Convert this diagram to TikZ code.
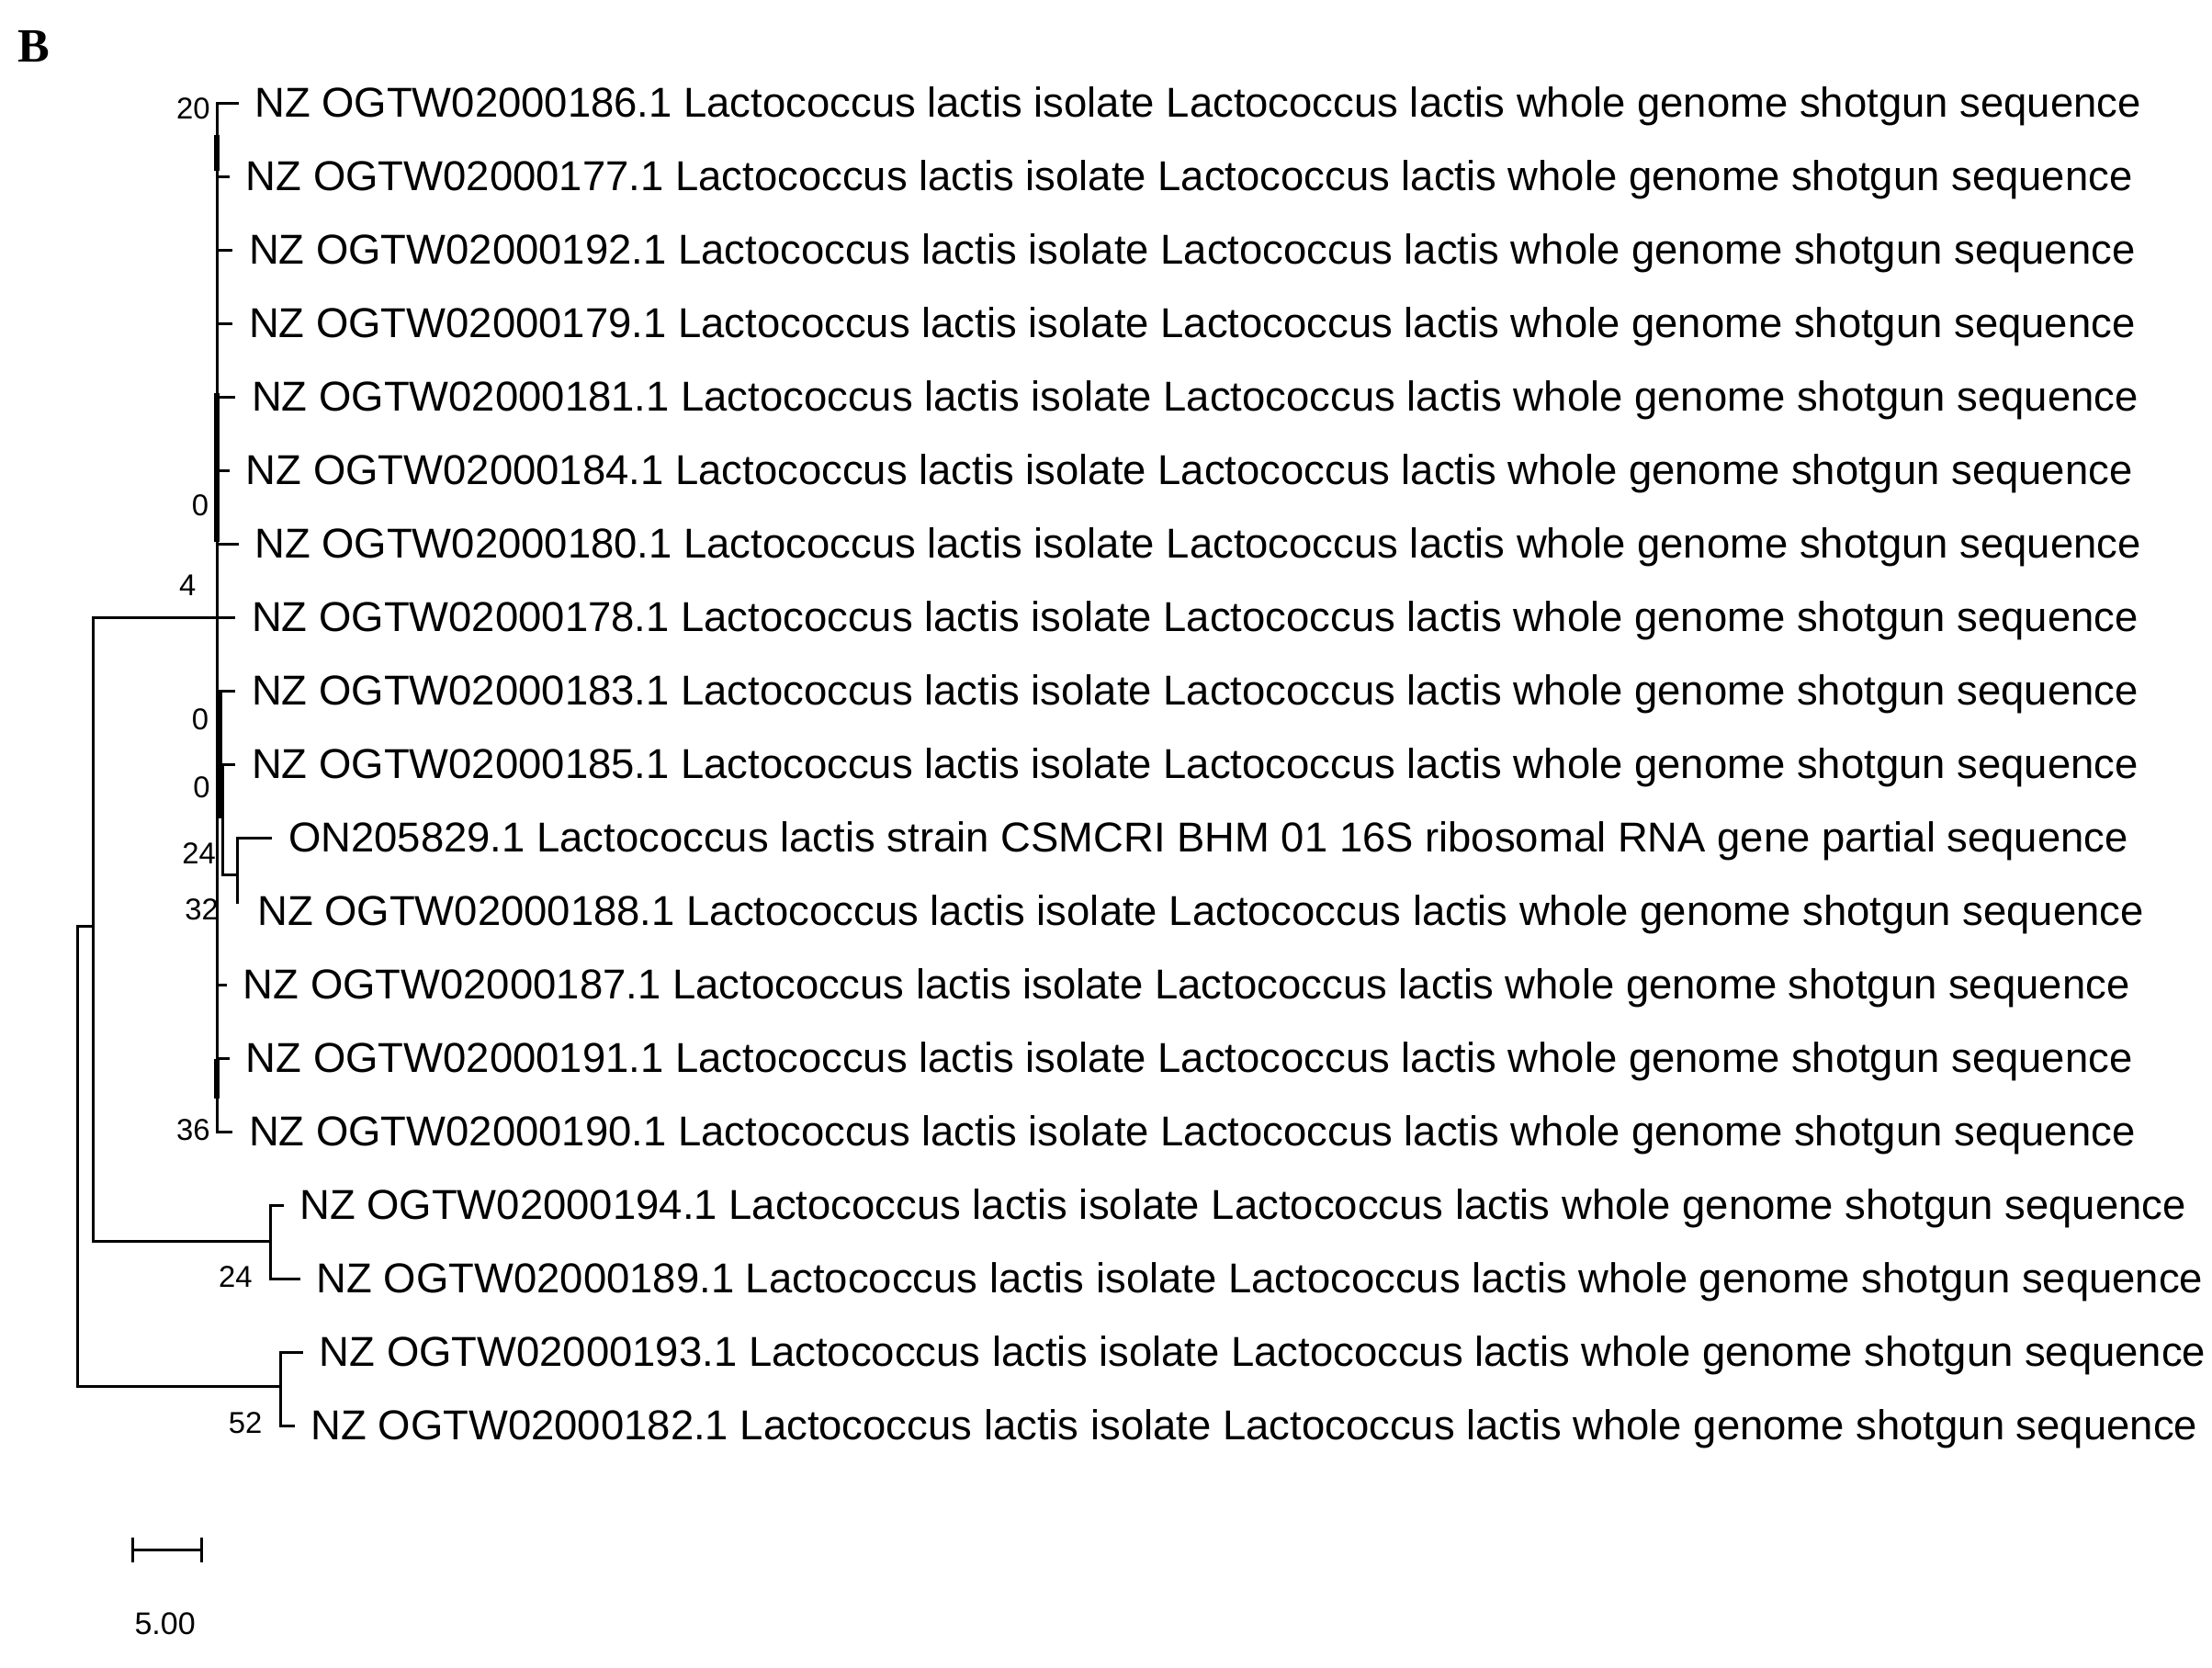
\documentclass[tikz,border=0pt]{standalone}
\usepackage{fontspec}
\setmainfont{Liberation Sans}
\newfontfamily\serifbold{Liberation Serif}
\begin{document}
\begin{tikzpicture}[x=0.3839pt,y=-0.3839pt,
  br/.style={line width=0.75pt,line cap=rect},
  thk/.style={line width=1.4pt},
  tip/.style={anchor=west,inner xsep=4.6pt,inner ysep=0pt,text height=9.2pt,text depth=1.7pt,font=\fontsize{11.36}{13}\selectfont},
  bs/.style={inner sep=0pt,font=\fontsize{8.2}{9}\selectfont}]
\useasboundingbox[fill=white] (0,0) rectangle (1568,1182);
\node[inner sep=0pt,font=\serifbold\bfseries\fontsize{13}{14}\selectfont] (lblB) at (24,33) {B};
% tips
\newcommand{\seqtext}{Lactococcus lactis isolate Lactococcus lactis whole genome shotgun sequence}
\node[tip] (t1) at (168,73) {NZ OGTW02000186.1 \seqtext};
\node[tip] (t2) at (162,125.1) {NZ OGTW02000177.1 \seqtext};
\node[tip] (t3) at (164,177.2) {NZ OGTW02000192.1 \seqtext};
\node[tip] (t4) at (164,229.3) {NZ OGTW02000179.1 \seqtext};
\node[tip] (t5) at (166,281.4) {NZ OGTW02000181.1 \seqtext};
\node[tip] (t6) at (162,333.5) {NZ OGTW02000184.1 \seqtext};
\node[tip] (t7) at (168,385.6) {NZ OGTW02000180.1 \seqtext};
\node[tip] (t8) at (166,437.7) {NZ OGTW02000178.1 \seqtext};
\node[tip] (t9) at (166,489.8) {NZ OGTW02000183.1 \seqtext};
\node[tip] (t10) at (166,541.9) {NZ OGTW02000185.1 \seqtext};
\node[tip] (t11) at (192,594) {ON205829.1 Lactococcus lactis strain CSMCRI BHM 01 16S ribosomal RNA gene partial sequence};
\node[tip] (t12) at (170,646.1) {NZ OGTW02000188.1 \seqtext};
\node[tip] (t13) at (160,698.2) {NZ OGTW02000187.1 \seqtext};
\node[tip] (t14) at (162,750.3) {NZ OGTW02000191.1 \seqtext};
\node[tip] (t15) at (164,802.4) {NZ OGTW02000190.1 \seqtext};
\node[tip] (t16) at (200,854.5) {NZ OGTW02000194.1 \seqtext};
\node[tip] (t17) at (212,906.6) {NZ OGTW02000189.1 \seqtext};
\node[tip] (t18) at (214,958.7) {NZ OGTW02000193.1 \seqtext};
\node[tip] (t19) at (208,1010.8) {NZ OGTW02000182.1 \seqtext};
% internal coordinates
\coordinate (cb) at (154,802.4);
\coordinate (c24) at (158,620);
\coordinate (c32) at (168,640);
\coordinate (nA) at (66,880);
\coordinate (n24) at (192,880);
\coordinate (nr) at (55,657);
\coordinate (n52) at (199,983);
% main polytomy
\draw[br] (t1.west) -| (cb) -- (t15.west);
\foreach \i in {2,3,4,5,6,7,9,10,13,14}{\draw[br] (t\i.west) -- (t\i.west -| cb);}
\draw[thk] (153.5,96) -- (153.5,121);
\draw[thk] (153.5,279) -- (153.5,384);
\draw[thk] (155.5,490) -- (155.5,580);
\draw[thk] (153.5,751) -- (153.5,779);
% ON clade
\draw[br] (t10.west -| c24) -- (c24) -- (c24 -| c32);
\draw[br] (t11.west) -| (c32);
% outer branches
\draw[br] (t8.west) -| (nA) -- (n24);
\draw[br] (t16.west) -| (n24) |- (t17.west);
\draw[br] (nr -| nA) -- (nr) |- (n52);
\draw[br] (t18.west) -| (n52) |- (t19.west);
% bootstrap labels
\node[bs] (b20) at (137,77) {20};
\node[bs] (b0a) at (142,358) {0};
\node[bs] (b4) at (133,415) {4};
\node[bs] (b0b) at (142,510) {0};
\node[bs] (b0c) at (143,558) {0};
\node[bs] (b24a) at (141,605) {24};
\node[bs] (b32) at (143,645) {32};
\node[bs] (b36) at (137,801) {36};
\node[bs] (b24b) at (167,905) {24};
\node[bs] (b52) at (174,1009) {52};
% scale bar
\coordinate (s1) at (94,1099);
\coordinate (s2) at (143,1099);
\draw[br] (s1) -- (s2);
\draw[br] ([yshift=-3pt]s1) -- ([yshift=3pt]s1);
\draw[br] ([yshift=-3pt]s2) -- ([yshift=3pt]s2);
\node[inner sep=0pt,font=\fontsize{8.5}{10}\selectfont] (sl) at (117,1151) {5.00};
\end{tikzpicture}
\end{document}
